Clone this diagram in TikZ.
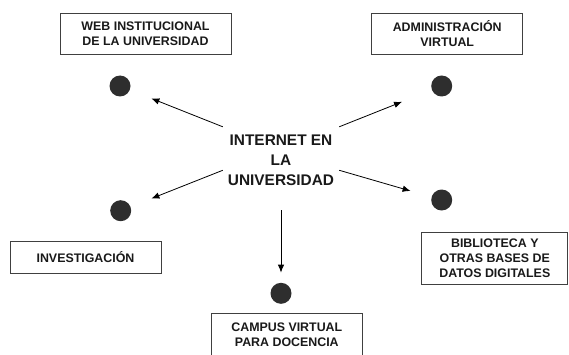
\documentclass[tikz,border=0pt]{standalone}
\usepackage{fontspec}
\setmainfont{Liberation Sans}
\usetikzlibrary{arrows.meta}
\tikzstyle{topic} = [rectangle, draw=black!75, line width=0.8pt, align=center, text=black!90, inner sep=0pt, font={\fontsize{12.4}{15}\selectfont\bfseries}]
\tikzstyle{hubtext} = [rectangle, align=center, text=black!90, inner sep=0pt, minimum width=116pt, minimum height=66pt, font={\fontsize{15.4}{20}\selectfont\bfseries}]
\tikzstyle{spot} = [circle, fill=black!82, minimum size=21pt, inner sep=0pt]
\tikzstyle{line} = [draw, line width=0.8pt, -{Latex[length=8pt,width=6.5pt]}]

\begin{document}
\begin{tikzpicture}[x=1pt, y=1pt, node distance=50pt]
\useasboundingbox (0,0) rectangle (569,354);

\node [hubtext] (hub) at (281,194) {INTERNET EN\\LA\\UNIVERSIDAD};

\node [spot] (webdot) at (120,268) {};
\node [spot] (admdot) at (441.7,268) {};
\node [spot] (invdot) at (120.7,143.3) {};
\node [spot] (bibdot) at (441.7,154) {};
\node [spot] (camdot) at (281,60.7) {};

\node [topic, above of=webdot, xshift=25.5pt, yshift=2.5pt, minimum width=171pt, minimum height=41pt] (web) {WEB INSTITUCIONAL\\DE LA UNIVERSIDAD};
\node [topic, above of=admdot, xshift=5.5pt, yshift=2.5pt, minimum width=151pt, minimum height=41pt] (adm) {ADMINISTRACIÓN\\VIRTUAL};
\node [topic, below of=invdot, xshift=-35.2pt, yshift=3.7pt, minimum width=151pt, minimum height=32pt] (inv) {INVESTIGACIÓN};
\node [topic, below of=bibdot, xshift=53.1pt, yshift=-8pt, minimum width=146pt, minimum height=52pt] (bib) {BIBLIOTECA Y\\OTRAS BASES DE\\DATOS DIGITALES};
\node [topic, below of=camdot, xshift=5.8pt, yshift=8.3pt, minimum width=150.5pt, minimum height=43.4pt] (cam) {CAMPUS VIRTUAL\\PARA DOCENCIA};

\path [line, shorten >=23pt] (hub.north west) -- (webdot);
\path [line, shorten >=32pt] (hub.north east) -- (admdot);
\path [line, shorten >=22.3pt] (hub.190) -- (invdot);
\path [line, shorten >=21.7pt] (hub.350) -- (bibdot);
\path [line, shorten <=17pt, shorten >=10pt] (hub.south) -- (camdot);

\end{tikzpicture}
\end{document}
